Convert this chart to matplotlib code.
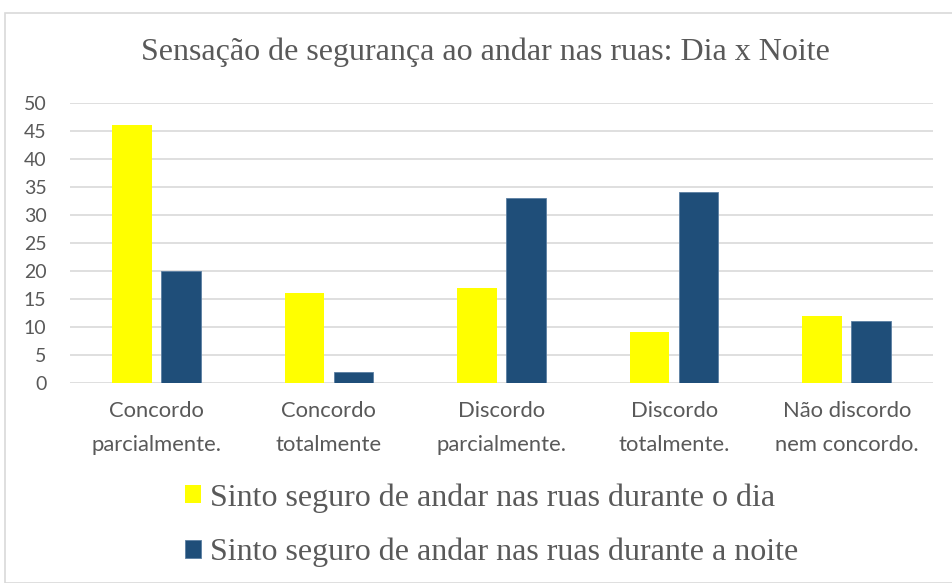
import matplotlib
matplotlib.use("Agg")
import matplotlib.pyplot as plt
import numpy as np
from matplotlib.patches import Rectangle

categories = ["Concordo\nparcialmente.", "Concordo\ntotalmente", "Discordo\nparcialmente.",
              "Discordo\ntotalmente.", "Não discordo\nnem concordo."]
dia = [46, 16, 17, 9, 12]
noite = [20, 2, 33, 34, 11]
series_names = ["Sinto seguro de andar nas ruas durante o dia",
                "Sinto seguro de andar nas ruas durante a noite"]
title = "Sensação de segurança ao andar nas ruas: Dia x Noite"
yticks = [0, 5, 10, 15, 20, 25, 30, 35, 40, 45, 50]

gray = "#595959"
fig = plt.figure(figsize=(9.52, 5.83), dpi=100)
fig.patches.append(Rectangle((5/952, 0), 1, 1 - 13/583, transform=fig.transFigure,
                             fill=False, edgecolor="#d9d9d9", linewidth=1.2))

ax = fig.add_axes([70/952, 1 - 382.7/583, (933 - 70)/952, (382.7 - 102.7)/583])
x = np.arange(len(categories))
w = 0.23
ax.bar(x - 0.142, dia, width=w, color="#FFFF00", label=series_names[0], zorder=3)
ax.bar(x + 0.142, noite, width=w, color="#1F4E79", edgecolor="#5b7fa3", linewidth=0.6,
       label=series_names[1], zorder=3)
ax.set_xlim(-0.5, len(categories) - 0.5)
ax.set_ylim(0, 50)
ax.set_yticks(yticks)
ax.set_xticks(x)
ax.set_xticklabels(categories, fontsize=15.8, color=gray, family="Lato", linespacing=1.9)
for lab in ax.get_yticklabels():
    lab.set_fontsize(14)
    lab.set_color(gray)
    lab.set_family("Lato")
ax.grid(axis="y", color="#d9d9d9", linewidth=1.2, zorder=0)
for s in ax.spines.values():
    s.set_visible(False)
ax.tick_params(axis="y", length=0, pad=17)
ax.tick_params(axis="x", length=0, pad=13)

fig.text(485/952, 1 - 52/583, title, ha="center", va="center", fontsize=23,
         color=gray, family="Liberation Serif")

handles, labels = ax.get_legend_handles_labels()
leg = fig.legend(handles, labels, loc="center left", bbox_to_anchor=(156/952, 1 - 525/583),
                 frameon=False, prop={"family": "Liberation Serif", "size": 23},
                 handlelength=0.5, handleheight=0.5, handletextpad=0.3, labelspacing=0.78)
for t in leg.get_texts():
    t.set_color(gray)

fig.savefig("out.png", dpi=100)
